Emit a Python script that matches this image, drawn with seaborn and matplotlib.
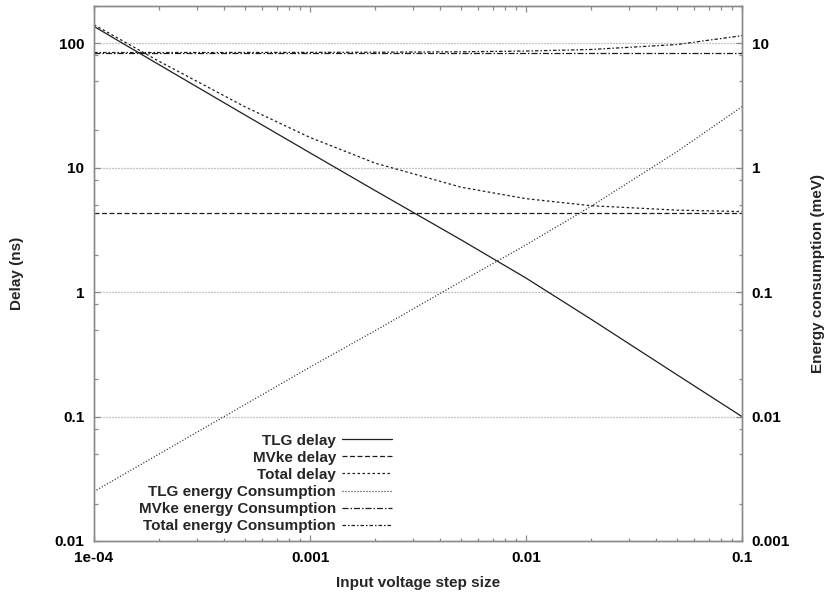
import matplotlib
matplotlib.use("Agg")
import matplotlib.pyplot as plt
import seaborn as sns
import pandas as pd
from matplotlib.ticker import FixedLocator, FixedFormatter, LogLocator, NullFormatter

# Input voltage step size (sweep points)
step = [1e-4, 2e-4, 5e-4, 1e-3, 2e-3, 5e-3, 1e-2, 2e-2, 5e-2, 1e-1]

# Delay (ns)
tlg_delay = [137, 67.5, 26.6, 13.2, 6.57, 2.64, 1.30, 0.607, 0.217, 0.1]
mvke_delay = [4.35, 4.35, 4.35, 4.35, 4.35, 4.35, 4.35, 4.35, 4.35, 4.35]
total_delay = [141.4, 71.9, 30.95, 17.55, 10.92, 6.99, 5.65, 4.96, 4.57, 4.45]

# Energy consumption (meV)
tlg_energy = [0.0025, 0.005, 0.0125, 0.025, 0.049, 0.122, 0.24, 0.49, 1.35, 3.1]
mvke_energy = [8.45, 8.45, 8.45, 8.45, 8.45, 8.45, 8.45, 8.45, 8.45, 8.45]
total_energy = [8.45, 8.455, 8.46, 8.475, 8.5, 8.57, 8.69, 8.94, 9.8, 11.55]

x_ticks = [1e-4, 1e-3, 1e-2, 1e-1]
x_tick_labels = ["1e-04", "0.001", "0.01", "0.1"]
delay_ticks = [0.01, 0.1, 1, 10, 100]
delay_tick_labels = ["0.01", "0.1", "1", "10", "100"]
energy_ticks = [0.001, 0.01, 0.1, 1, 10]
energy_tick_labels = ["0.001", "0.01", "0.1", "1", "10"]

df = pd.DataFrame({
    "step": step,
    "tlg_delay": tlg_delay, "mvke_delay": mvke_delay, "total_delay": total_delay,
    "tlg_energy": tlg_energy, "mvke_energy": mvke_energy, "total_energy": total_energy,
})

sns.set_theme(style="white")
plt.rcParams["font.family"] = ["Liberation Sans", "DejaVu Sans"]
plt.rcParams["lines.scale_dashes"] = False

W, H = 828, 596
fig = plt.figure(figsize=(W / 100, H / 100), dpi=100)
left, right, top, bottom = 94, 742, 6, 541
ax = fig.add_axes([left / W, 1 - bottom / H, (right - left) / W, (bottom - top) / H])
ax2 = ax.twinx()

ink = "#1e1e1e"
lw = 0.9
px = 0.72  # points per pixel

delay_series = [
    ("tlg_delay", "TLG delay", "-"),
    ("mvke_delay", "MVke delay", (0, (5 * px, 2.5 * px))),
    ("total_delay", "Total delay", (0, (2.5 * px, 2.5 * px))),
]
energy_series = [
    ("tlg_energy", "TLG energy Consumption", (0, (1 * px, 2 * px))),
    ("mvke_energy", "MVke energy Consumption", (0, (6 * px, 2 * px, 1.5 * px, 2 * px))),
    ("total_energy", "Total energy Consumption", (0, (3.5 * px, 2 * px, 1.5 * px, 2 * px))),
]

for col, lab, ls in delay_series:
    sns.lineplot(data=df, x="step", y=col, ax=ax, color=ink, linewidth=lw,
                 linestyle=ls, label=lab, legend=False)
for col, lab, ls in energy_series:
    sns.lineplot(data=df, x="step", y=col, ax=ax2, color=ink, linewidth=lw,
                 linestyle=ls, label=lab, legend=False)

for a in (ax, ax2):
    a.set_xscale("log")
    a.set_yscale("log")
    a.set_xlim(1e-4, 1e-1)
ax.set_ylim(0.01, 200)
ax2.set_ylim(0.001, 20)

# horizontal grid at the delay decades
for v in delay_ticks[1:]:
    ax.axhline(v, color="#8a8a8a", linewidth=0.9, linestyle=(0, (1 * px, 2 * px)), zorder=0)

frame = "#8a8a8a"
for a in (ax, ax2):
    for s in a.spines.values():
        s.set_color(frame)
        s.set_linewidth(1.0)

ax.xaxis.set_major_locator(FixedLocator(x_ticks))
ax.xaxis.set_major_formatter(FixedFormatter(x_tick_labels))
ax.xaxis.set_minor_locator(LogLocator(base=10, subs=(2, 3, 4, 5, 6, 7, 8, 9), numticks=20))
ax.xaxis.set_minor_formatter(NullFormatter())

ax.yaxis.set_major_locator(FixedLocator(delay_ticks))
ax.yaxis.set_major_formatter(FixedFormatter(delay_tick_labels))
ax.yaxis.set_minor_locator(LogLocator(base=10, subs=(2, 5, 8), numticks=20))
ax.yaxis.set_minor_formatter(NullFormatter())

ax2.yaxis.set_major_locator(FixedLocator(energy_ticks))
ax2.yaxis.set_major_formatter(FixedFormatter(energy_tick_labels))
ax2.yaxis.set_minor_locator(LogLocator(base=10, subs=(2, 5, 8), numticks=20))
ax2.yaxis.set_minor_formatter(NullFormatter())

fs = 11
for a in (ax, ax2):
    a.tick_params(which="both", direction="in", color=frame, labelsize=fs, labelcolor="black")
    a.tick_params(which="major", length=6 * px, width=0.9)
    a.tick_params(which="minor", length=3.5 * px, width=0.9)
ax.tick_params(axis="x", which="both", top=True, bottom=True, pad=7)
ax.tick_params(axis="y", which="both", left=True, right=False, pad=7)
ax2.tick_params(axis="y", which="both", left=False, right=True, pad=7)
for t in ax.get_xticklabels() + ax.get_yticklabels() + ax2.get_yticklabels():
    t.set_fontweight("bold")

ax.set_xlabel("Input voltage step size", fontsize=fs, fontweight="bold")
ax.xaxis.set_label_coords(0.5, (bottom - 583) / (bottom - top))
ax.xaxis.label.set_va("center")
ax.set_ylabel("Delay (ns)", fontsize=fs, fontweight="bold")
ax.yaxis.set_label_coords((17 - left) / (right - left), 0.5)
ax.yaxis.label.set_va("center")
ax2.set_ylabel("Energy consumption (meV)", fontsize=fs, fontweight="bold")
ax2.yaxis.set_label_coords((818 - left) / (right - left), 0.5)
ax2.yaxis.label.set_va("center")

h1, l1 = ax.get_legend_handles_labels()
h2, l2 = ax2.get_legend_handles_labels()
leg = ax2.legend(h1 + h2, l1 + l2, loc="lower right",
                 bbox_to_anchor=(392 / W, 1 - 533 / H), bbox_transform=fig.transFigure,
                 frameon=False, markerfirst=False, handlelength=3.3,
                 handletextpad=0.35, labelspacing=0.2, borderpad=0, borderaxespad=0,
                 prop={"weight": "bold", "size": fs})

fig.savefig("out.png", dpi=100, facecolor="white")
